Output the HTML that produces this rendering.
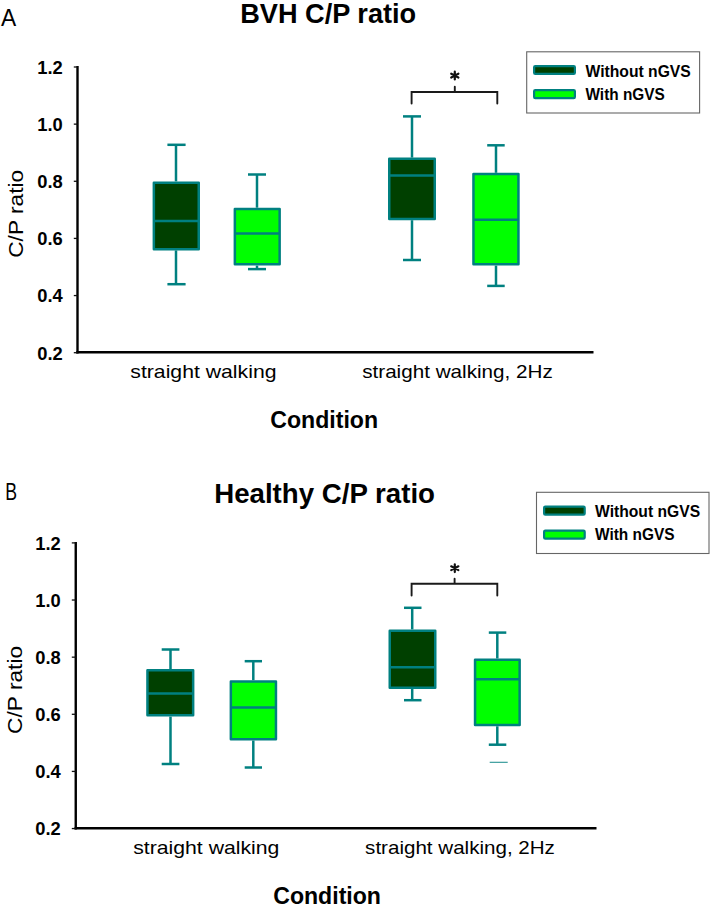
<!DOCTYPE html>
<html><head><meta charset="utf-8"><style>
html,body{margin:0;padding:0;background:#fff;width:710px;height:906px;overflow:hidden}
svg{display:block}
text{font-family:"Liberation Sans",sans-serif;fill:#000}
</style></head><body>
<svg width="710" height="906" viewBox="0 0 710 906">
<rect width="710" height="906" fill="#fff"/>
<text x="1" y="25.8" font-size="23.4" textLength="15.2" lengthAdjust="spacingAndGlyphs" text-anchor="start">A</text>
<text x="240.2" y="22.7" font-size="27" font-weight="bold" textLength="176" lengthAdjust="spacingAndGlyphs" text-anchor="start">BVH C/P ratio</text>
<line x1="77.5" y1="66" x2="77.5" y2="353.4" stroke="#000" stroke-width="2.4"/>
<line x1="76.3" y1="352.2" x2="593.5" y2="352.2" stroke="#000" stroke-width="2.4"/>
<line x1="73.8" y1="67.0" x2="77.5" y2="67.0" stroke="#111" stroke-width="1.3"/>
<text x="62.8" y="73.9" font-size="18.4" font-weight="bold" textLength="25.5" lengthAdjust="spacingAndGlyphs" text-anchor="end">1.2</text>
<line x1="73.8" y1="124.14" x2="77.5" y2="124.14" stroke="#111" stroke-width="1.3"/>
<text x="62.8" y="131.04" font-size="18.4" font-weight="bold" textLength="25.5" lengthAdjust="spacingAndGlyphs" text-anchor="end">1.0</text>
<line x1="73.8" y1="181.28" x2="77.5" y2="181.28" stroke="#111" stroke-width="1.3"/>
<text x="62.8" y="188.18" font-size="18.4" font-weight="bold" textLength="25.5" lengthAdjust="spacingAndGlyphs" text-anchor="end">0.8</text>
<line x1="73.8" y1="238.42000000000002" x2="77.5" y2="238.42000000000002" stroke="#111" stroke-width="1.3"/>
<text x="62.8" y="245.32000000000002" font-size="18.4" font-weight="bold" textLength="25.5" lengthAdjust="spacingAndGlyphs" text-anchor="end">0.6</text>
<line x1="73.8" y1="295.56" x2="77.5" y2="295.56" stroke="#111" stroke-width="1.3"/>
<text x="62.8" y="302.46" font-size="18.4" font-weight="bold" textLength="25.5" lengthAdjust="spacingAndGlyphs" text-anchor="end">0.4</text>
<line x1="73.8" y1="352.7" x2="77.5" y2="352.7" stroke="#111" stroke-width="1.3"/>
<text x="62.8" y="359.59999999999997" font-size="18.4" font-weight="bold" textLength="25.5" lengthAdjust="spacingAndGlyphs" text-anchor="end">0.2</text>
<line x1="176" y1="144.8" x2="176" y2="181.4" stroke="#008080" stroke-width="2.5"/>
<line x1="176" y1="250.4" x2="176" y2="284.2" stroke="#008080" stroke-width="2.5"/>
<line x1="167.4" y1="144.8" x2="185.6" y2="144.8" stroke="#008080" stroke-width="2.5"/>
<line x1="167.4" y1="284.2" x2="185.6" y2="284.2" stroke="#008080" stroke-width="2.5"/>
<rect x="153.85" y="182.65" width="44.900000000000006" height="66.5" fill="#004000" stroke="#008080" stroke-width="2.5" stroke-linejoin="round"/>
<line x1="153.85" y1="221" x2="198.75" y2="221" stroke="#008080" stroke-width="2.5"/>
<line x1="257" y1="174.5" x2="257" y2="207.7" stroke="#008080" stroke-width="2.5"/>
<line x1="257" y1="265.6" x2="257" y2="269.1" stroke="#008080" stroke-width="2.5"/>
<line x1="248" y1="174.5" x2="266" y2="174.5" stroke="#008080" stroke-width="2.5"/>
<line x1="248" y1="269.1" x2="266" y2="269.1" stroke="#008080" stroke-width="2.5"/>
<rect x="234.85" y="208.95" width="44.79999999999998" height="55.400000000000034" fill="#00FF00" stroke="#008080" stroke-width="2.5" stroke-linejoin="round"/>
<line x1="234.85" y1="233.5" x2="279.65" y2="233.5" stroke="#008080" stroke-width="2.5"/>
<line x1="412" y1="116.4" x2="412" y2="157.6" stroke="#008080" stroke-width="2.5"/>
<line x1="412" y1="220.2" x2="412" y2="260" stroke="#008080" stroke-width="2.5"/>
<line x1="403" y1="116.4" x2="421" y2="116.4" stroke="#008080" stroke-width="2.5"/>
<line x1="403" y1="260" x2="421" y2="260" stroke="#008080" stroke-width="2.5"/>
<rect x="389.25" y="158.85" width="45.5" height="60.099999999999994" fill="#004000" stroke="#008080" stroke-width="2.5" stroke-linejoin="round"/>
<line x1="389.25" y1="175.4" x2="434.75" y2="175.4" stroke="#008080" stroke-width="2.5"/>
<line x1="496" y1="145.3" x2="496" y2="172.8" stroke="#008080" stroke-width="2.5"/>
<line x1="496" y1="265.6" x2="496" y2="285.9" stroke="#008080" stroke-width="2.5"/>
<line x1="487.2" y1="145.3" x2="504.7" y2="145.3" stroke="#008080" stroke-width="2.5"/>
<line x1="487.2" y1="285.9" x2="504.7" y2="285.9" stroke="#008080" stroke-width="2.5"/>
<rect x="473.45" y="174.05" width="45.00000000000006" height="90.30000000000001" fill="#00FF00" stroke="#008080" stroke-width="2.5" stroke-linejoin="round"/>
<line x1="473.45" y1="219.7" x2="518.45" y2="219.7" stroke="#008080" stroke-width="2.5"/>
<path d="M411.6 103.6 V92 H497.3 V103.6 M454.8 92 V86.8" fill="none" stroke="#1a1a1a" stroke-width="1.9" stroke-linecap="round"/>
<path d="M454.8 71.70 V79.50 M451.20 73.70 L458.40 77.50 M451.20 77.50 L458.40 73.70" stroke="#111" stroke-width="2.2" stroke-linecap="round"/>
<text x="130.3" y="377.7" font-size="19" textLength="146.2" lengthAdjust="spacingAndGlyphs" text-anchor="start">straight walking</text>
<text x="362.2" y="378" font-size="19" textLength="190.6" lengthAdjust="spacingAndGlyphs" text-anchor="start">straight walking, 2Hz</text>
<text x="270.3" y="427.5" font-size="24.5" font-weight="bold" textLength="107.8" lengthAdjust="spacingAndGlyphs" text-anchor="start">Condition</text>
<text transform="translate(22.9 257.8) rotate(-90)" x="0" y="0" font-size="19.8" textLength="88" lengthAdjust="spacingAndGlyphs">C/P ratio</text>
<rect x="526.7" y="51.8" width="172.9" height="61.2" fill="#fff" stroke="#666" stroke-width="1.1"/>
<rect x="534.1" y="66.1" width="40.8" height="7.8" rx="1.2" fill="#004000" stroke="#008080" stroke-width="2.2"/>
<rect x="534.1" y="90.1" width="40.8" height="8.0" rx="1.2" fill="#00FF00" stroke="#008080" stroke-width="2.2"/>
<text x="585.5" y="76.5" font-size="16" font-weight="bold" textLength="105.3" lengthAdjust="spacingAndGlyphs" text-anchor="start">Without nGVS</text>
<text x="585.5" y="99.7" font-size="16" font-weight="bold" textLength="79.2" lengthAdjust="spacingAndGlyphs" text-anchor="start">With nGVS</text>
<text x="5.2" y="499.6" font-size="23.2" textLength="11.8" lengthAdjust="spacingAndGlyphs" text-anchor="start">B</text>
<text x="214.2" y="502.7" font-size="27" font-weight="bold" textLength="220.8" lengthAdjust="spacingAndGlyphs" text-anchor="start">Healthy C/P ratio</text>
<line x1="75.75" y1="542" x2="75.75" y2="829.4000000000001" stroke="#000" stroke-width="2.4"/>
<line x1="74.55" y1="828.2" x2="596.5" y2="828.2" stroke="#000" stroke-width="2.4"/>
<line x1="71.8" y1="542.9" x2="75.75" y2="542.9" stroke="#111" stroke-width="1.3"/>
<text x="60.8" y="549.8" font-size="18.4" font-weight="bold" textLength="25.5" lengthAdjust="spacingAndGlyphs" text-anchor="end">1.2</text>
<line x1="71.8" y1="600.03" x2="75.75" y2="600.03" stroke="#111" stroke-width="1.3"/>
<text x="60.8" y="606.93" font-size="18.4" font-weight="bold" textLength="25.5" lengthAdjust="spacingAndGlyphs" text-anchor="end">1.0</text>
<line x1="71.8" y1="657.16" x2="75.75" y2="657.16" stroke="#111" stroke-width="1.3"/>
<text x="60.8" y="664.06" font-size="18.4" font-weight="bold" textLength="25.5" lengthAdjust="spacingAndGlyphs" text-anchor="end">0.8</text>
<line x1="71.8" y1="714.29" x2="75.75" y2="714.29" stroke="#111" stroke-width="1.3"/>
<text x="60.8" y="721.1899999999999" font-size="18.4" font-weight="bold" textLength="25.5" lengthAdjust="spacingAndGlyphs" text-anchor="end">0.6</text>
<line x1="71.8" y1="771.42" x2="75.75" y2="771.42" stroke="#111" stroke-width="1.3"/>
<text x="60.8" y="778.3199999999999" font-size="18.4" font-weight="bold" textLength="25.5" lengthAdjust="spacingAndGlyphs" text-anchor="end">0.4</text>
<line x1="71.8" y1="828.55" x2="75.75" y2="828.55" stroke="#111" stroke-width="1.3"/>
<text x="60.8" y="835.4499999999999" font-size="18.4" font-weight="bold" textLength="25.5" lengthAdjust="spacingAndGlyphs" text-anchor="end">0.2</text>
<line x1="170.5" y1="649.5" x2="170.5" y2="669.1" stroke="#008080" stroke-width="2.5"/>
<line x1="170.5" y1="716.6" x2="170.5" y2="764" stroke="#008080" stroke-width="2.5"/>
<line x1="161.7" y1="649.5" x2="179.4" y2="649.5" stroke="#008080" stroke-width="2.5"/>
<line x1="161.7" y1="764" x2="179.4" y2="764" stroke="#008080" stroke-width="2.5"/>
<rect x="147.45" y="670.35" width="45.70000000000002" height="45.0" fill="#004000" stroke="#008080" stroke-width="2.5" stroke-linejoin="round"/>
<line x1="147.45" y1="693.6" x2="193.15" y2="693.6" stroke="#008080" stroke-width="2.5"/>
<line x1="253.3" y1="661.2" x2="253.3" y2="680.2" stroke="#008080" stroke-width="2.5"/>
<line x1="253.3" y1="740.5" x2="253.3" y2="767.5" stroke="#008080" stroke-width="2.5"/>
<line x1="244.7" y1="661.2" x2="262" y2="661.2" stroke="#008080" stroke-width="2.5"/>
<line x1="244.7" y1="767.5" x2="262" y2="767.5" stroke="#008080" stroke-width="2.5"/>
<rect x="230.85" y="681.45" width="45.099999999999994" height="57.799999999999955" fill="#00FF00" stroke="#008080" stroke-width="2.5" stroke-linejoin="round"/>
<line x1="230.85" y1="707.6" x2="275.95" y2="707.6" stroke="#008080" stroke-width="2.5"/>
<line x1="412.2" y1="607.8" x2="412.2" y2="629.4" stroke="#008080" stroke-width="2.5"/>
<line x1="412.2" y1="689" x2="412.2" y2="700.2" stroke="#008080" stroke-width="2.5"/>
<line x1="404" y1="607.8" x2="421.5" y2="607.8" stroke="#008080" stroke-width="2.5"/>
<line x1="404" y1="700.2" x2="421.5" y2="700.2" stroke="#008080" stroke-width="2.5"/>
<rect x="389.75" y="630.65" width="45.5" height="57.10000000000002" fill="#004000" stroke="#008080" stroke-width="2.5" stroke-linejoin="round"/>
<line x1="389.75" y1="667.2" x2="435.25" y2="667.2" stroke="#008080" stroke-width="2.5"/>
<line x1="497.3" y1="632.6" x2="497.3" y2="658.5" stroke="#008080" stroke-width="2.5"/>
<line x1="497.3" y1="726.3" x2="497.3" y2="744.7" stroke="#008080" stroke-width="2.5"/>
<line x1="488.8" y1="632.6" x2="506.3" y2="632.6" stroke="#008080" stroke-width="2.5"/>
<line x1="488.8" y1="744.7" x2="506.3" y2="744.7" stroke="#008080" stroke-width="2.5"/>
<rect x="475.05" y="659.75" width="44.599999999999966" height="65.29999999999995" fill="#00FF00" stroke="#008080" stroke-width="2.5" stroke-linejoin="round"/>
<line x1="475.05" y1="679.3" x2="519.65" y2="679.3" stroke="#008080" stroke-width="2.5"/>
<path d="M411.6 595.6 V583.8 H497.3 V595.6 M454.6 583.8 V578.8" fill="none" stroke="#1a1a1a" stroke-width="1.9" stroke-linecap="round"/>
<path d="M454.8 564.30 V572.10 M451.20 566.30 L458.40 570.10 M451.20 570.10 L458.40 566.30" stroke="#111" stroke-width="2.2" stroke-linecap="round"/>
<line x1="489.7" y1="762.3" x2="507.7" y2="762.3" stroke="#008080" stroke-width="1.1" opacity="0.85"/>
<text x="133.2" y="854" font-size="19" textLength="146.2" lengthAdjust="spacingAndGlyphs" text-anchor="start">straight walking</text>
<text x="365.1" y="853.7" font-size="19" textLength="189.8" lengthAdjust="spacingAndGlyphs" text-anchor="start">straight walking, 2Hz</text>
<text x="273.2" y="903.5" font-size="24.5" font-weight="bold" textLength="107.8" lengthAdjust="spacingAndGlyphs" text-anchor="start">Condition</text>
<text transform="translate(21.5 733.9) rotate(-90)" x="0" y="0" font-size="19.8" textLength="88" lengthAdjust="spacingAndGlyphs">C/P ratio</text>
<rect x="536.5" y="492.3" width="172.5" height="61.2" fill="#fff" stroke="#666" stroke-width="1.1"/>
<rect x="544.1" y="506.6" width="40.6" height="8.1" rx="1.2" fill="#004000" stroke="#008080" stroke-width="2.2"/>
<rect x="544.1" y="530.6" width="40.6" height="8.1" rx="1.2" fill="#00FF00" stroke="#008080" stroke-width="2.2"/>
<text x="595" y="517" font-size="16" font-weight="bold" textLength="105.1" lengthAdjust="spacingAndGlyphs" text-anchor="start">Without nGVS</text>
<text x="595" y="540.1" font-size="16" font-weight="bold" textLength="79.5" lengthAdjust="spacingAndGlyphs" text-anchor="start">With nGVS</text>
</svg>
</body></html>
